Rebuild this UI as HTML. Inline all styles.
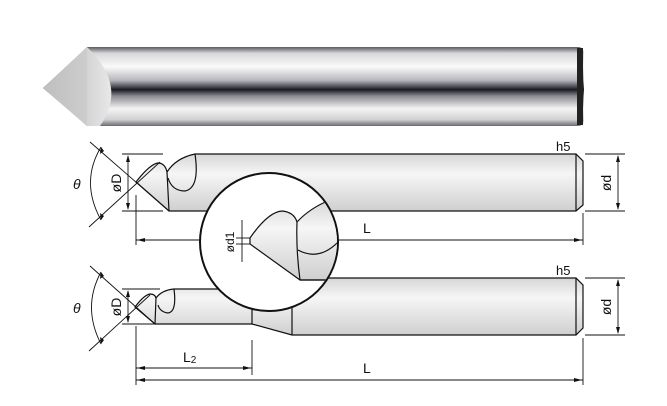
<!DOCTYPE html>
<html><head><meta charset="utf-8"><style>body{margin:0;background:#fff}svg{display:block}text{font-family:"Liberation Sans",sans-serif;fill:#111}</style></head><body>
<svg width="667" height="406" viewBox="0 0 667 406" xmlns="http://www.w3.org/2000/svg">
<defs>
<linearGradient id="ph" x1="0" y1="0" x2="0" y2="1">
<stop offset="0" stop-color="#5a5a60"/><stop offset="0.08" stop-color="#d8d8da"/><stop offset="0.25" stop-color="#fafafa"/><stop offset="0.42" stop-color="#b8b8bc"/><stop offset="0.54" stop-color="#1a1a22"/><stop offset="0.62" stop-color="#8a8a90"/><stop offset="0.78" stop-color="#f4f4f4"/><stop offset="0.92" stop-color="#d0d0d2"/><stop offset="1" stop-color="#6a6a70"/></linearGradient>
<linearGradient id="g" x1="0" y1="0" x2="0" y2="1"><stop offset="0" stop-color="#d6d6d6"/><stop offset="0.35" stop-color="#f6f6f6"/><stop offset="1" stop-color="#cfcfcf"/></linearGradient>
<linearGradient id="tipg" x1="0" y1="0" x2="1" y2="0"><stop offset="0" stop-color="#b0b0b0"/><stop offset="1" stop-color="#e8e8e8"/></linearGradient>
</defs>
<!-- photo -->
<path d="M87,47 L578,47 Q584,47 584,55 L584,118 Q584,126 578,126 L87,126 L43,88 Z" fill="url(#ph)"/>
<path d="M87,47 Q128,86 100,126 L87,126 L43,88 Z" fill="url(#tipg)"/>
<path d="M87,47 L87,126 L43,88 Z" fill="#c8c8c8" opacity="0.6"/>
<rect x="577" y="48" width="6" height="77" fill="#222"/>
<g stroke="#111" stroke-width="1.2" fill="none">
<!-- top tool -->
<path d="M195,154 L576,154 L583,161 L583,205 L576,211 L169,211 L136,182 Q150,164 158,163 Q165,163 167,172 Q176,158 195,154 Z" fill="url(#g)"/>
<path d="M195,154 Q200,188 185,191 Q172,191 168,178"/>
<path d="M167,172 L169,211"/>
<line x1="576" y1="154" x2="576" y2="211"/>
<!-- bottom tool -->
<path d="M292,278 L576,278 L583,285 L583,328 L576,335 L292,335 L252,324 L155,324 L135,307 Q144,295 150,294 Q155,294 156,298 Q162,290 174,289 L252,289 L252,278 Z" fill="url(#g)"/>
<path d="M174,289 Q177,312 168,313 Q160,312 158,305"/>
<line x1="156" y1="298" x2="155" y2="324"/>
<line x1="252" y1="289" x2="252" y2="324"/>
<line x1="292" y1="278" x2="292" y2="335"/>
<line x1="576" y1="278" x2="576" y2="335"/>
</g>
<g stroke="#111" stroke-width="0.9" fill="none">
<line x1="90" y1="142" x2="169" y2="211"/><line x1="89" y1="227" x2="160" y2="162"/>
<path d="M101,147 Q80,182 101,220"/>
<line x1="90" y1="266" x2="155" y2="324"/><line x1="89" y1="351" x2="150" y2="295"/>
<path d="M101,272 Q82,307 101,344"/>
<line x1="122" y1="154" x2="163" y2="154"/><line x1="122" y1="211" x2="163" y2="211"/><line x1="128" y1="156" x2="128" y2="209"/>
<line x1="122" y1="289" x2="160" y2="289"/><line x1="122" y1="324" x2="160" y2="324"/><line x1="128" y1="291" x2="128" y2="322"/>
<line x1="585" y1="154" x2="625" y2="154"/><line x1="585" y1="211" x2="625" y2="211"/><line x1="618" y1="156" x2="618" y2="209"/>
<line x1="585" y1="278" x2="625" y2="278"/><line x1="585" y1="335" x2="625" y2="335"/><line x1="618" y1="280" x2="618" y2="333"/>
<line x1="136" y1="195" x2="136" y2="245"/><line x1="583" y1="213" x2="583" y2="245"/><line x1="136" y1="240" x2="583" y2="240"/>
<line x1="136" y1="326" x2="136" y2="385"/><line x1="583" y1="338" x2="583" y2="385"/><line x1="136" y1="380" x2="583" y2="380"/>
<line x1="252" y1="340" x2="252" y2="375"/><line x1="136" y1="368" x2="252" y2="368"/>
</g>
<g fill="#111">
<path d="M101,147 l-1,7 l4,-3z"/><path d="M101,220 l-1,-7 l4,3z"/>
<path d="M101,272 l-1,7 l4,-3z"/><path d="M101,344 l-1,-7 l4,3z"/>
<path d="M128,155 l-2,7 h4z"/><path d="M128,210 l-2,-7 h4z"/>
<path d="M128,290 l-2,7 h4z"/><path d="M128,323 l-2,-7 h4z"/>
<path d="M618,155 l-2,7 h4z"/><path d="M618,210 l-2,-7 h4z"/>
<path d="M618,279 l-2,7 h4z"/><path d="M618,334 l-2,-7 h4z"/>
<path d="M137,240 l8,-2 v4z"/><path d="M582,240 l-8,-2 v4z"/>
<path d="M137,380 l8,-2 v4z"/><path d="M582,380 l-8,-2 v4z"/>
<path d="M137,368 l8,-2 v4z"/><path d="M251,368 l-8,-2 v4z"/>
</g>
<circle cx="269" cy="242" r="69" fill="#fff" stroke="#111" stroke-width="2"/>
<clipPath id="cc"><circle cx="269" cy="242" r="68"/></clipPath>
<g clip-path="url(#cc)" stroke="#111" stroke-width="1.2">
<path d="M250,238 Q268,212 282,211 Q294,212 297,222 Q310,208 330,200 L345,200 L345,280 L300,280 L250,244 Z" fill="url(#g)"/>
<path d="M297,222 Q296,250 300,280" fill="none"/>
<path d="M298,250 Q320,262 340,240" fill="none"/>
<line x1="300" y1="280" x2="345" y2="280"/>
</g>
<g stroke="#111" stroke-width="0.9">
<line x1="236" y1="238" x2="250" y2="238"/><line x1="236" y1="244" x2="250" y2="244"/>
<line x1="242" y1="220" x2="242" y2="262"/>
</g>
<text x="363" y="233" font-size="14">L</text>
<text x="363" y="373" font-size="14">L</text>
<text x="183" y="362" font-size="14">L<tspan font-size="10" dy="1">2</tspan></text>
<text x="556" y="151" font-size="13">h5</text>
<text x="556" y="275" font-size="13">h5</text>
<text x="73" y="189" font-size="14" font-style="italic" font-family="Liberation Serif">θ</text>
<text x="73" y="313" font-size="14" font-style="italic" font-family="Liberation Serif">θ</text>
<text transform="translate(121,183) rotate(-90)" font-size="14" text-anchor="middle">øD</text>
<text transform="translate(121,307) rotate(-90)" font-size="14" text-anchor="middle">øD</text>
<text transform="translate(611,183) rotate(-90)" font-size="14" text-anchor="middle">ød</text>
<text transform="translate(611,307) rotate(-90)" font-size="14" text-anchor="middle">ød</text>
<text transform="translate(234,242) rotate(-90)" font-size="12" text-anchor="middle">ød1</text>
</svg>
</body></html>
